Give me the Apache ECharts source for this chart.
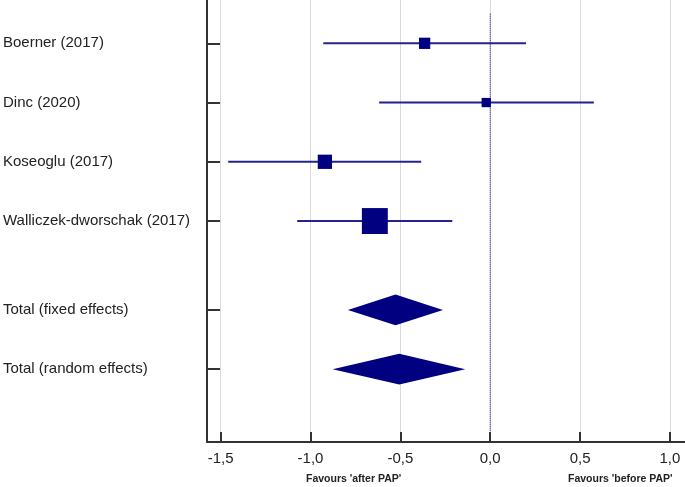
<!DOCTYPE html>
<html>
<head>
<meta charset="utf-8">
<script src="https://cdn.jsdelivr.net/npm/echarts@6/dist/echarts.min.js"></script>
<style>
  html, body { margin: 0; padding: 0; background: #fff; }
  #chart { width: 685px; height: 487px; }
</style>
</head>
<body>
<div id="chart"></div>
<script>
// studies (rows 0..3), totals at rows 4.5 and 5.5
const studyNames = ['Boerner (2017)', 'Dinc (2020)', 'Koseoglu (2017)', 'Walliczek-dworschak (2017)'];
const studyRows = [0, 1, 2, 3];
const studyEst = [-0.365, -0.022, -0.92, -0.642];
const studyLow = [-0.929, -0.618, -1.458, -1.074];
const studyHigh = [0.199, 0.577, -0.384, -0.211];
const studyWeight = [11.7, 7.9, 18.7, 61.7];

const totalNames = ['Total (fixed effects)', 'Total (random effects)'];
const totalRows = [4.5, 5.5];
const totalEst = [-0.527, -0.506];
const totalLow = [-0.792, -0.877];
const totalHigh = [-0.263, -0.139];

const xTicks = [-1.5, -1.0, -0.5, 0, 0.5, 1.0];
const allRows = studyRows.concat(totalRows);
const allNames = studyNames.concat(totalNames);

const chart = echarts.init(document.getElementById('chart'));

const studyData = studyRows.map((r, i) => [studyEst[i], r, studyLow[i], studyHigh[i], studyWeight[i]]);
const totalData = totalRows.map((r, i) => [totalEst[i], r, totalLow[i], totalHigh[i]]);

function renderStudy(params, api) {
    const y = api.value(1);
    const mid = api.coord([api.value(0), y]);
    const lo = api.coord([api.value(2), y]);
    const hi = api.coord([api.value(3), y]);
    const s = Math.sqrt(api.value(4)) * 3.3;
    return {
        type: 'group',
        children: [
            { type: 'line', shape: { x1: lo[0], y1: lo[1], x2: hi[0], y2: hi[1] },
              style: { stroke: '#23238c', lineWidth: 2 } },
            { type: 'rect', shape: { x: mid[0] - s / 2, y: mid[1] - s / 2, width: s, height: s },
              style: { fill: '#000080' } }
        ]
    };
}

function renderDiamond(params, api) {
    const y = api.value(1);
    const mid = api.coord([api.value(0), y]);
    const lo = api.coord([api.value(2), y]);
    const hi = api.coord([api.value(3), y]);
    const h = 15.3;
    return {
        type: 'polygon',
        shape: { points: [[lo[0], lo[1]], [mid[0], mid[1] - h], [hi[0], hi[1]], [mid[0], mid[1] + h]] },
        style: { fill: '#000080' }
    };
}

const option = {
    animation: false,
    grid: { left: 207, right: 0, top: 0, bottom: 45 },
    xAxis: {
        type: 'value',
        min: -1.576,
        max: 1.084,
        axisLine: { show: true, onZero: false, lineStyle: { color: '#333', width: 2 } },
        axisTick: { show: true, inside: true, length: 10, customValues: xTicks,
                    lineStyle: { color: '#333', width: 2 } },
        axisLabel: {
            customValues: xTicks,
            margin: 9,
            fontSize: 15,
            fontFamily: 'Liberation Sans, Arial, sans-serif',
            color: '#222',
            formatter: v => v.toFixed(1).replace('.', ',')
        },
        splitLine: { show: true, lineStyle: { color: '#d9d9d9', width: 1 } }
    },
    yAxis: {
        type: 'value',
        inverse: true,
        min: -0.731,
        max: 6.73,
        axisLine: { show: true, onZero: false, lineStyle: { color: '#333', width: 2 } },
        axisTick: { show: true, inside: true, length: 13, customValues: allRows,
                    lineStyle: { color: '#333', width: 2 } },
        axisLabel: {
            customValues: allRows,
            align: 'left',
            margin: 204,
            fontSize: 15,
            fontFamily: 'Liberation Sans, Arial, sans-serif',
            color: '#222',
            formatter: v => allNames[allRows.indexOf(v)] || ''
        },
        splitLine: { show: false }
    },
    graphic: [
        { type: 'text', left: 306, top: 474,
          style: { text: "Favours 'after PAP'", font: 'bold 10.5px Liberation Sans, Arial, sans-serif', fill: '#222' } },
        { type: 'text', left: 568, top: 474,
          style: { text: "Favours 'before PAP'", font: 'bold 10.5px Liberation Sans, Arial, sans-serif', fill: '#222' } }
    ],
    series: [
        {
            type: 'line',
            data: [[0, -0.5], [0, 6.55]],
            symbol: 'none',
            silent: true,
            lineStyle: { type: 'dotted', color: '#000080', width: 1 },
            z: 1
        },
        {
            type: 'custom',
            renderItem: renderStudy,
            encode: { x: [0, 2, 3], y: 1 },
            data: studyData,
            z: 3
        },
        {
            type: 'custom',
            renderItem: renderDiamond,
            encode: { x: [0, 2, 3], y: 1 },
            data: totalData,
            z: 3
        }
    ]
};

chart.setOption(option);
</script>
</body>
</html>
